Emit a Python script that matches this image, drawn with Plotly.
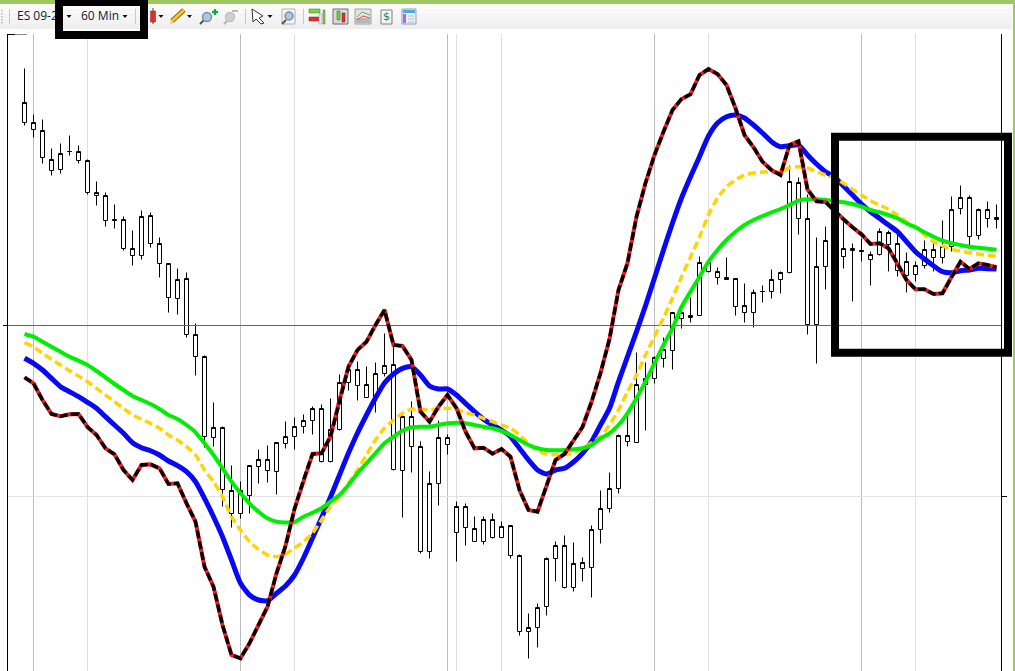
import math
import plotly.graph_objects as go

bar_index = list(range(109))
high = [602,556,551,522,527,535,525,511.7,489,478.7,466,454.7,440,460,458.7,433.7,407.7,402.7,398.7,347.7,315,268.7,244.7,205,189.7,205.3,221,225,228.7,249,253,256,264.7,266.7,272,296.7,306,309,304,308,337,324,255,269.7,229.7,199.7,250.7,236,169.7,167.7,154.7,154.7,157.7,149.7,145.7,116.3,57.7,67.7,113.7,129.7,135.7,128.7,113.7,145.7,180.7,198.7,236.7,255.7,318.7,308.7,314.7,333.7,358.7,366.7,373.7,414.7,411.7,403.7,413.7,392.7,387.7,381.7,385.7,401.7,399.7,505.7,493.7,476,433.7,444.7,439,451,427.7,432.7,419.3,442.7,440,437.7,418.7,409.7,430.7,427.7,450.7,474.7,485.7,475.7,462.7,469.7,466.7]
body_top = [568.7,548.7,540.7,511.7,517.7,519.7,519.7,510.7,478.7,475.7,451.3,451.7,422.7,454.7,455.7,427.7,407.7,391.7,392.7,336.7,314.7,243.7,243.7,180.7,180.7,205,211.7,211.7,228.7,234.7,244.7,250.7,262.7,262.7,241.7,288.7,301.7,301.7,286.7,297.7,305.7,306.7,254.7,254.7,224.7,187.7,233.7,233.7,164.7,164.7,142.7,151.7,151.7,144.7,145.7,115.7,43.7,63.7,112.7,125.7,125.7,107.7,108.7,141.7,162.7,182.7,235.7,235.7,286.7,292.7,313.7,321.7,358.7,358.7,355.7,408.7,408.7,399.7,393.7,392.7,365.7,378.7,379.7,391.7,398.7,489.7,488.7,452.7,404.7,430.7,425,422.7,422.7,420.3,416.7,439.7,438.7,427.7,409.7,405.7,421.7,421.7,424.7,461.7,473.7,473.7,461.7,461.7,453.7]
body_bottom = [548.7,541.7,513.7,500.7,501.7,519.7,510.7,478.7,475.7,450.7,450.7,422.7,415.7,415.7,427.7,407.7,373.7,372.7,336.7,314.7,234.7,233.7,181.7,157.7,157.7,175.7,204.7,200.7,199.7,227.7,234.7,244.7,250.7,209.7,209.7,241.7,288.7,285.7,273.7,273.7,297.7,201.7,200.7,224.7,119.7,119.7,187.7,226.7,138.7,143.7,129.7,129.7,133.7,133.7,115.7,39.7,39.7,43.7,64.7,112.7,83.7,83.7,102.7,103.7,141.7,162.7,182.7,229.7,228.7,286.7,292.7,312.7,320.7,352.7,353.7,355.7,399.7,393.7,391.7,364.7,358.7,358.7,379,379.7,391.7,398.3,452.7,346.7,346,404.7,403,414.7,420.7,419.7,411.7,416.7,426.7,400.7,395.7,396.7,405.7,413.7,413.7,424.7,462.7,434.7,435.7,452.7,451.7]
low = [545.3,533.3,507.3,495.3,497.3,515.3,507.3,476.3,465.3,444.3,442.3,420.3,405.3,411.3,423.3,393.3,358.3,356.3,333.7,295.3,223.3,224.3,164.3,143.3,152,157.7,187.3,188.3,176.3,222.3,221.3,237.3,236.3,208.7,208.7,240.7,280.3,270.3,273.2,258.3,294,200.7,153.3,198.3,117.3,112.3,165.3,216,109.3,125.3,129.7,126.3,132.3,133.7,112.3,35.7,12.3,23.3,55,89.3,82.7,79.3,89.3,73.7,127.7,158.3,177.3,224.3,228.7,240.3,287.7,303.7,301.3,342.7,348.3,355.3,398,386.7,391.7,355.3,348.7,343.7,368.7,372.3,377.7,397.7,436.7,336.7,307.7,381.7,389,402.7,369.3,409.3,385.3,415.3,399.3,394.3,378.7,389.3,402.7,399.3,407.7,419.7,456.3,422.7,431.7,443.7,442.7]
fast_avg = [293.7,287.7,271,257,254.7,256.7,257,244,236,222.7,216.7,201,191,206,206.7,202.7,187,187.7,167.7,149.3,104.3,84.3,46,16,12.7,27.7,46,64.3,97.7,125,162,191,217,217.7,234.3,271,304.3,321,329.3,346,361,326,325,311,259.3,249.3,264.3,276,262.7,239.3,222.7,223.3,217.3,222,214.3,181,161,159.3,184.3,211,217,230,244,269,298,332,381,408,454.3,488,516,539.3,561,572,576.7,596,602,597,586,562.7,536,523.7,509.3,501,496,526,529.7,481.5,469.7,469,460,451.7,443.7,436.7,427,427.7,422.7,407.7,391,381.7,381.7,377,377.7,394.3,409.3,402,407.7,406,403.7]
blue_avg = [312.7,307.7,301,292.7,284.3,279.3,274.3,268.7,262.7,254.3,246,237.7,228.3,223.3,220.3,216,210,205.3,199.3,189.3,172.7,154.3,134.3,111,87.7,76,71,70.3,77.7,85,96,113,133,153,174,196,218,238,256,273,288,297,302.7,304.3,296,285,282,282,276,267.7,259.3,251.7,246,241,234.3,222.7,211,201,197,201,202.7,209,217.7,229.3,246,262.7,289.3,314.3,339.3,365.3,393,421,448,473,494.3,514.3,535,548,554.3,556,553,546,538,529.3,524.3,525.3,526,516,507,499.3,494,485,476,467,459.3,452.7,446,439.3,429.3,419.3,412,405.3,399.3,398.3,400.3,401,402.7,402.3,402]
gold_avg = [328.3,324.3,317.7,311.7,306,300.3,295,289.3,282.7,276,269.3,262.7,256,251.7,247.7,242.7,236,231,224.3,216,201,189.3,174.3,154.3,141,129.3,121.7,116,114.3,117,123,129.3,138,151,164.3,174.3,188,201,216,231,243,251,257.7,261.7,261.7,261,262.3,262.7,261.7,258.3,256,252.7,249.3,246,242.7,236,227.7,220.3,217,216.3,216.7,217.7,222.7,228,234.3,246,261,279.3,296,316,334.3,353,373,394,414,434,456,473,484.3,491,496,498,499,499,499.3,503,504.3,503,499.3,496,493,487.7,481.7,476,470.3,466,461.7,456,449.3,444.3,436,429.3,425,421.7,420,418.3,417,415.7,414.7]
green_avg = [337,334.3,329.3,324.3,319.3,314.3,310.3,306,300,293.7,287,281,275,271,267,262,256,252,246,238.7,227.7,216,202.7,189.3,177.7,167.7,159.3,152.7,149.3,148.5,149,154.3,158.3,162.7,169.3,176,186,197.7,207.7,217.7,227.7,234.3,240.3,243.7,244.3,244.3,246,247.7,248.3,247.7,246,244.3,242.7,240,236,231,226,222.7,221,220.7,221,221.7,222.7,226,232.7,237.7,246,257.7,272.7,289.3,307.7,326,342.7,364,379.3,394.3,409.3,421,431,439.3,446,451,455,458.7,462,466,470.3,471.7,471.7,471,470,468.7,467,464.3,461,458.7,456,452.7,447.7,443.7,438.7,434.3,430.3,427.7,426,424.3,423.3,422.3,421.3]
ref_level = [345.5, 345.5]
ref_span = [-16.5 / 9, 976.5 / 9]
major_bars = [1, 24, 47, 70, 93]
minor_bars = [7, 30, 48, 53, 76, 99]
price_grid = [174.5]
symbol_label = "ES 09-2"
period_label = "60 Min"


def to_tick(vals):
    return [math.floor(v) + 0.5 for v in vals]


W, H = 1015, 671
fig = go.Figure()

fig.add_trace(go.Candlestick(
    x=bar_index, open=to_tick(body_bottom), high=to_tick(high), low=to_tick(low), close=to_tick(body_top),
    increasing=dict(line=dict(color="black", width=1), fillcolor="white"),
    decreasing=dict(line=dict(color="black", width=1), fillcolor="white"),
    whiskerwidth=0, showlegend=False, hoverinfo="skip"))


def add_line(vals, color, width, dash="solid", shape="spline"):
    fig.add_trace(go.Scatter(x=bar_index, y=vals, mode="lines", showlegend=False, hoverinfo="skip",
                             line=dict(color=color, width=width, dash=dash, shape=shape,
                                       smoothing=0.6 if shape == "spline" else None)))


fig.add_trace(go.Scatter(x=ref_span, y=ref_level, mode="lines", showlegend=False, hoverinfo="skip",
                         line=dict(color="#dd11dd", width=1)))
add_line(blue_avg, "#0808f4", 5)
add_line(gold_avg, "#ffd400", 3.5, "8px,4px")
add_line(green_avg, "#00ee00", 4)
add_line(fast_avg, "#ee1c1c", 4, shape="linear")
add_line(fast_avg, "#000000", 3.4, "8px,3px", shape="linear")


def X(p):
    return p / W


def Y(p):
    return 1 - p / H


shapes = []


def rect(x0, y0, x1, y1, fill=None, line=None, lw=0):
    shapes.append(dict(type="rect", xref="paper", yref="paper", x0=X(x0), x1=X(x1), y0=Y(y0), y1=Y(y1),
                       fillcolor=fill or "rgba(0,0,0,0)", line=dict(color=line or "rgba(0,0,0,0)", width=lw), layer="above"))


def seg(x0, y0, x1, y1, color, lw=1):
    shapes.append(dict(type="line", xref="paper", yref="paper", x0=X(x0), x1=X(x1), y0=Y(y0), y1=Y(y1),
                       line=dict(color=color, width=lw), layer="above"))


def poly(pts, fill, line=None, lw=0):
    path = "M " + " L ".join(f"{X(a):.5f} {Y(b):.5f}" for a, b in pts) + " Z"
    shapes.append(dict(type="path", xref="paper", yref="paper", path=path, fillcolor=fill,
                       line=dict(color=line or "rgba(0,0,0,0)", width=lw), layer="above"))


def circ(cx, cy, r, fill, line, lw=1):
    shapes.append(dict(type="circle", xref="paper", yref="paper", x0=X(cx - r), x1=X(cx + r), y0=Y(cy + r), y1=Y(cy - r),
                       fillcolor=fill, line=dict(color=line, width=lw), layer="above"))


# toolbar background
for i, c in enumerate(["#fbfbfb", "#f8f8f8", "#f5f5f5", "#f2f2f2", "#efefef"]):
    rect(0, 4 + i * 5, 1012, 9 + i * 5, fill=c)
rect(0, 0, 1015, 4, fill="#9fc65f")
rect(1013, 0, 1015, 671, fill="#9fc65f")
for yy in [10, 13, 16, 19, 22]:
    rect(1, yy, 3, yy + 1.5, fill="#c4c4c4")
for xx in [9.5, 135.5, 245.5, 303.5]:
    seg(xx, 9, xx, 24, "#c8c8c8", 1)


def drop(cx, cy=16):
    poly([(cx - 2.5, cy - 1), (cx + 2.5, cy - 1), (cx, cy + 2)], "#111111")


for cx in [69, 125, 161, 189.5, 270]:
    drop(cx)

# candle button
seg(153, 8, 153, 24, "#444444", 1)
rect(150.5, 11, 155.5, 22, fill="#e0302a", line="#802020", lw=0.5)
# pencil
seg(172, 21, 184, 10, "#8a6a10", 5)
seg(172, 21, 184, 10, "#f4c830", 3)
poly([(170, 24), (174, 23), (171, 20)], "#e8c890")
# zoom in
seg(200, 24, 204, 20, "#555555", 2)
circ(207, 17, 4.5, "#a8c8e8", "#7f8f9f", 1.5)
seg(212, 12, 218, 12, "#10a838", 2.2)
seg(215, 9, 215, 15, "#10a838", 2.2)
# zoom out
seg(224, 24, 228, 20, "#b0b0b0", 2)
circ(230, 17, 4.5, "#d0d0d0", "#c0c0c0", 1.5)
seg(232, 11, 238, 11, "#b8b8b8", 2)
# pointer
poly([(252, 9), (263, 16), (259, 18), (264, 23), (261, 24), (256, 19), (253, 22)], "#ffffff", "#333333", 1)
# search box
rect(282, 9, 295, 24, fill="#f4f4f4", line="#b0b0b0", lw=1)
seg(282, 24, 286, 20, "#555555", 2)
circ(289, 16, 4, "#a8c8e8", "#7f8f9f", 1.5)
# bars icon
rect(309, 9, 320, 13, fill="#80d040", line="#308020", lw=0.5)
rect(309, 17, 319, 21, fill="#e03030", line="#902020", lw=0.5)
rect(323, 10, 325, 24, fill="#80d040", line="#606060", lw=0.5)
rect(319, 14, 322, 24, fill="#e8e8e8", line="#909090", lw=0.5)
# candles icon
rect(333, 9, 348, 24, fill="#d8d8d8", line="#707070", lw=1)
rect(337, 11, 340, 20, fill="#70d030", line="#307010", lw=0.5)
rect(342, 13, 345, 22, fill="#e03030", line="#802020", lw=0.5)
# chart icon
rect(355, 9, 371, 24, fill="#e4e4e4", line="#a0a0a0", lw=1)
rect(356, 18, 370, 23, fill="#b8b8b8")
seg(357, 17, 362, 12, "#50b060", 1)
seg(362, 12, 370, 15, "#50b060", 1)
seg(357, 20, 363, 16, "#e05050", 1)
seg(363, 16, 370, 18, "#e05050", 1)
# dollar icon
rect(381, 10, 392, 24, fill="#f4f4f4", line="#808080", lw=1)
# form icon
rect(402, 9, 416, 24, fill="#e8f0f8", line="#90a0b0", lw=1)
rect(403, 10, 415, 13, fill="#50a8e0")
rect(403, 14, 406, 23, fill="#a070e0")
for yy in [16, 19, 22]:
    seg(408, yy, 414, yy, "#b0c4d8", 1)

# frame bits of the chart
seg(8, 34.5, 15, 34.5, "#000000", 1)
seg(15, 34.5, 27, 34.5, "#888888", 1)
seg(3, 325.5, 8, 325.5, "#000000", 1)
seg(1001, 496.5, 1007, 496.5, "#000000", 1)

# black markup boxes
rect(59, 2, 144, 35, line="#000000", lw=8)
rect(835, 136.7, 1008, 352.7, line="#000000", lw=8)

fig.update_layout(
    width=W, height=H, margin=dict(l=0, r=0, t=0, b=0, pad=0), autosize=False,
    paper_bgcolor="white", plot_bgcolor="white", boxgap=5 / 9, boxgroupgap=0,
    font=dict(family="Open Sans", size=12, color="#1a2a4a"),
    shapes=shapes,
    xaxis=dict(domain=[8 / W, 1001 / W], range=ref_span, rangeslider=dict(visible=False),
               tickmode="array", tickvals=major_bars, showticklabels=False, ticks="",
               showgrid=True, gridcolor="#bdbdbd", gridwidth=1, zeroline=False, showline=False,
               minor=dict(tickmode="array", tickvals=minor_bars, showgrid=True, gridcolor="#e0e0e0", gridwidth=1, ticks="")),
    yaxis=dict(domain=[0, 637 / H], range=[0, 637], tickmode="array", tickvals=price_grid,
               showticklabels=False, ticks="", showgrid=True, gridcolor="#e2e2e2", gridwidth=1, zeroline=False,
               showline=True, mirror=True, linecolor="black", linewidth=1),
    annotations=[
        dict(text=symbol_label, xref="paper", yref="paper", x=X(15), y=Y(15.5), xanchor="left", yanchor="middle",
             showarrow=False, font=dict(family="Open Sans", size=12, color="#10203a")),
        dict(text=period_label, xref="paper", yref="paper", x=X(79), y=Y(15.5), xanchor="left", yanchor="middle",
             showarrow=False, font=dict(family="Open Sans", size=12, color="#10203a")),
        dict(text="$", xref="paper", yref="paper", x=X(386.5), y=Y(17), xanchor="center", yanchor="middle",
             showarrow=False, font=dict(family="DejaVu Sans", size=11, color="#108838")),
    ])

fig.write_html("out.html", config=dict(displayModeBar=False),
               post_script="document.body.style.margin='0';document.body.style.overflow='hidden';")
